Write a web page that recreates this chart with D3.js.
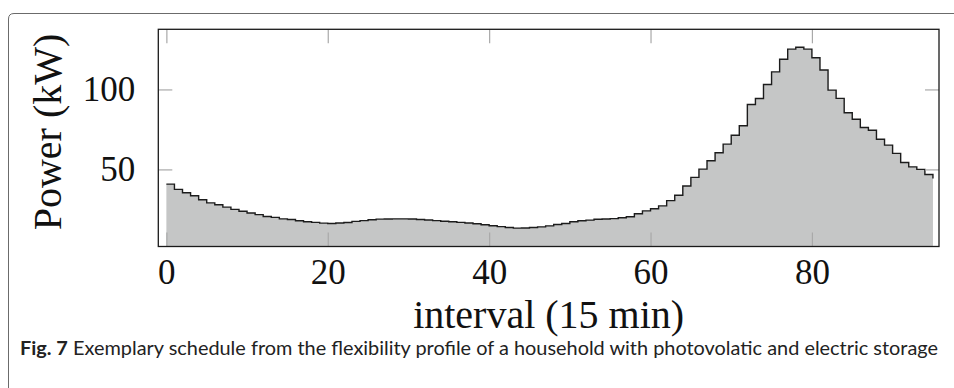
<!DOCTYPE html>
<html>
<head>
<meta charset="utf-8">
<script src="https://cdn.jsdelivr.net/npm/d3@7"></script>
<style>
  body { margin: 0; background: #fff; }
  svg { display: block; }
</style>
</head>
<body>
<figure id="schedule" style="margin:0"></figure>
<script>
// power per 15 min interval (index = interval number)
const powerKw = [
  40.8, 37.5, 35.4, 33.5, 31.0, 29.1, 27.9, 26.4, 25.0, 23.8,
  22.7, 21.7, 20.6, 20.0, 19.1, 18.7, 17.9, 17.3, 16.9, 16.4,
  16.2, 16.5, 16.8, 17.5, 18.0, 18.5, 18.9, 19.0, 19.1, 19.1,
  19.0, 18.7, 18.4, 18.0, 17.6, 17.3, 16.9, 16.5, 16.0, 15.4,
  14.8, 14.2, 13.7, 13.3, 13.4, 13.7, 14.1, 14.7, 15.6, 16.2,
  17.3, 17.9, 18.3, 18.8, 19.0, 19.2, 19.8, 20.4, 22.3, 24.1,
  25.4, 27.2, 30.5, 33.8, 39.6, 45.0, 50.2, 55.4, 60.4, 65.8,
  71.4, 77.3, 90.6, 94.3, 103.1, 111.0, 118.9, 125.2, 126.4, 125.2,
  119.8, 112.2, 99.6, 94.4, 85.4, 81.4, 76.2, 74.5, 68.9, 65.2,
  60.0, 54.3, 51.6, 50.0, 46.8, 44.3
];
const xTicks = [0, 20, 40, 60, 80];
const yTicks = [50, 100];
const xLabel = "interval (15 min)";
const yLabel = "Power (kW)";
const captionBold = "Fig. 7";
const captionText = "Exemplary schedule from the flexibility profile of a household with photovolatic and electric storage";

const width = 954;
const height = 388;
// plot frame
const plotLeft = 158.3, plotRight = 939, plotTop = 29.3, plotBottom = 246.5;
const tickLen = 14;
const serif = "'Liberation Serif', 'Times New Roman', serif";

const svg = d3.select("figure#schedule")
  .append("svg")
  .attr("width", width)
  .attr("height", height);

// outer box with rounded top-left corner
svg.append("path")
  .attr("d", "M8.5,388 L8.5,19 Q8.5,13.5 14,13.5 L954,13.5")
  .attr("fill", "none")
  .attr("stroke", "#6b6b6b")
  .attr("stroke-width", 1);

const x = d3.scaleLinear().domain([-1, 95.75]).range([plotLeft, plotRight]);
const y = d3.scaleLinear().domain([1.8, 137.6]).range([plotBottom, plotTop]);

// filled step area
const area = d3.area()
  .curve(d3.curveStepAfter)
  .x((d, i) => x(i))
  .y0(plotBottom)
  .y1(d => y(d));

svg.append("path")
  .datum(powerKw)
  .attr("d", area)
  .attr("fill", "#c5c6c6");

const line = d3.line()
  .curve(d3.curveStepAfter)
  .x((d, i) => x(i))
  .y(d => y(d));

svg.append("path")
  .datum(powerKw)
  .attr("d", line)
  .attr("fill", "none")
  .attr("stroke", "#1c1c1c")
  .attr("stroke-width", 1.4);

// ticks point inwards on all four sides
function styleAxis(g) {
  g.select(".domain").remove();
  g.selectAll(".tick line").attr("stroke", "#a9a9a9").attr("stroke-width", 1.2);
  g.selectAll(".tick text")
    .attr("fill", "#111")
    .style("font-family", serif)
    .style("font-size", "35px");
}

svg.append("g")
  .attr("transform", "translate(0," + plotBottom + ")")
  .call(d3.axisBottom(x).tickValues(xTicks).tickSizeInner(-tickLen).tickSizeOuter(0).tickPadding(13))
  .call(styleAxis);

svg.append("g")
  .attr("transform", "translate(0," + plotTop + ")")
  .call(d3.axisTop(x).tickValues(xTicks).tickSizeInner(-tickLen).tickSizeOuter(0).tickFormat(""))
  .call(styleAxis);

svg.append("g")
  .attr("transform", "translate(" + plotLeft + ",0)")
  .call(d3.axisLeft(y).tickValues(yTicks).tickSizeInner(-tickLen).tickSizeOuter(0).tickPadding(23))
  .call(styleAxis);

svg.append("g")
  .attr("transform", "translate(" + plotRight + ",0)")
  .call(d3.axisRight(y).tickValues(yTicks).tickSizeInner(-tickLen).tickSizeOuter(0).tickFormat(""))
  .call(styleAxis);

// frame
svg.append("rect")
  .attr("x", plotLeft)
  .attr("y", plotTop)
  .attr("width", plotRight - plotLeft)
  .attr("height", plotBottom - plotTop)
  .attr("fill", "none")
  .attr("stroke", "#1a1a1a")
  .attr("stroke-width", 1.3);

// axis labels
svg.append("text")
  .attr("x", (plotLeft + plotRight) / 2)
  .attr("y", 328)
  .attr("text-anchor", "middle")
  .style("font-family", serif)
  .style("font-size", "40px")
  .attr("fill", "#111")
  .text(xLabel);

svg.append("text")
  .attr("transform", "translate(61,132) rotate(-90)")
  .attr("text-anchor", "middle")
  .style("font-family", serif)
  .style("font-size", "40px")
  .attr("fill", "#111")
  .text(yLabel);

// caption
const cap = svg.append("text")
  .attr("x", 20)
  .attr("y", 355)
  .attr("textLength", 918)
  .attr("lengthAdjust", "spacingAndGlyphs")
  .style("font-family", "Lato, 'Open Sans', sans-serif")
  .style("font-size", "19px")
  .attr("fill", "#222");
cap.append("tspan").style("font-weight", "bold").text(captionBold);
cap.append("tspan").text(" " + captionText);
</script>
</body>
</html>
